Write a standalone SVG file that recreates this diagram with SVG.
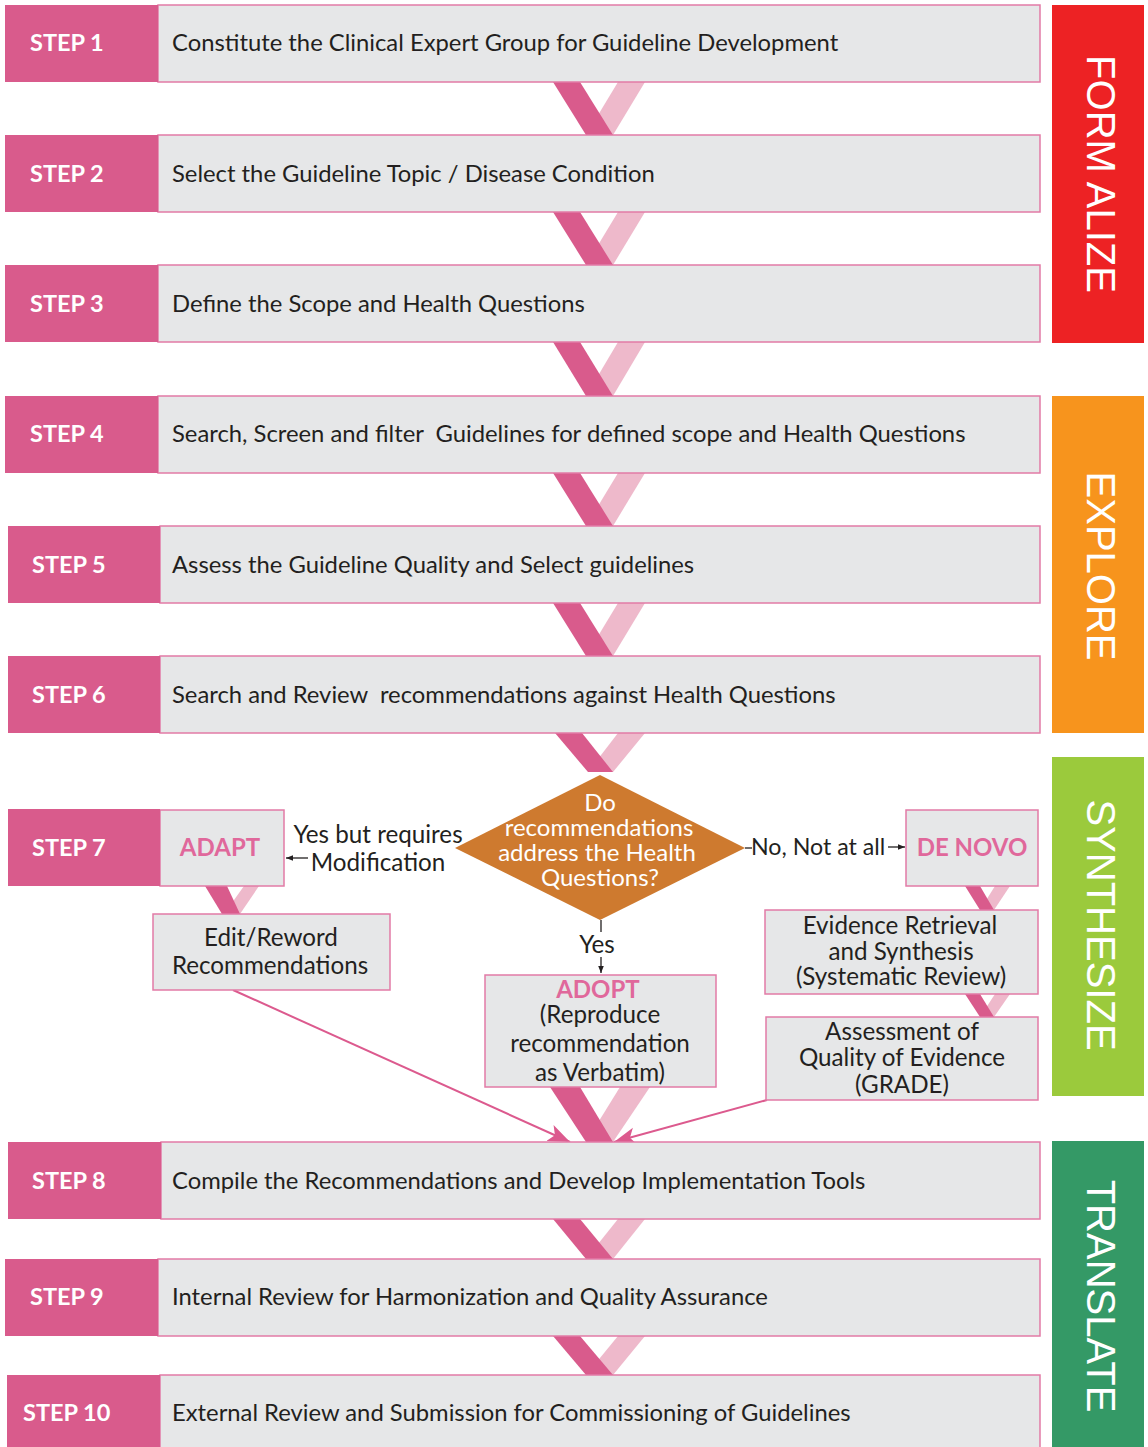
<svg xmlns="http://www.w3.org/2000/svg" width="1148" height="1447" viewBox="0 0 1148 1447">
<style>
.strip{fill:#D95B8C}
.box{fill:#E6E7E8;stroke:#E27BA6;stroke-width:1.5}
.lbl{font-family:Lato,"Liberation Sans",sans-serif;font-weight:700;font-size:23.5px;fill:#FFFFFF}
.txt{font-family:Lato,"Liberation Sans",sans-serif;font-size:23.8px;fill:#231F20}
.ctr{font-family:Lato,"Liberation Sans",sans-serif;font-size:24.2px;fill:#231F20;text-anchor:middle}
.pk{font-family:Lato,"Liberation Sans",sans-serif;font-weight:700;font-size:24px;fill:#E0689B;text-anchor:middle}
.dtxt{font-family:Lato,"Liberation Sans",sans-serif;font-size:24px;fill:#FFFFFF;text-anchor:middle}
.side{font-family:"Liberation Sans",Arial,sans-serif;font-size:40px;fill:#FFFFFF;text-anchor:middle}
.vd{fill:#D95B8C}
.vl{fill:#EEB9CB}
.ln{stroke:#231F20;stroke-width:1.3;fill:none}
.pl{stroke:#DC5A8E;stroke-width:2;fill:none}
</style>
<defs>
<marker id="ab" viewBox="0 0 10 10" refX="10" refY="5" markerWidth="7" markerHeight="7" markerUnits="userSpaceOnUse" orient="auto"><path d="M0,1 L10,5 L0,9 z" fill="#231F20"/></marker>
<marker id="ap" viewBox="0 0 10 10" refX="10" refY="5" markerWidth="22" markerHeight="22" markerUnits="userSpaceOnUse" orient="auto"><path d="M0,1 L10,5 L0,9 L2.5,5 z" fill="#DC5A8E"/></marker>
</defs>

<g id="phases">
<g id="formalize"><rect x="1052" y="5" width="92" height="338" fill="#ED2224"/><text class="side" transform="translate(1087,174) rotate(90)">FORM ALIZE</text></g>
<g id="explore"><rect x="1052" y="396" width="92" height="337" fill="#F7941D"/><text class="side" transform="translate(1087,566) rotate(90)">EXPLORE</text></g>
<g id="synthesize"><rect x="1052" y="757" width="92" height="339" fill="#9BCA3C"/><text class="side" transform="translate(1087,925) rotate(90)">SYNTHESIZE</text></g>
<g id="translate"><rect x="1052" y="1141" width="92" height="306" fill="#349966"/><text class="side" transform="translate(1087,1296) rotate(90)">TRANSLATE</text></g>
</g>

<g id="connectors">
<polygon class="vl" points="618,82 645,82 613,135 586,135"/><polygon class="vd" points="553,82 580,82 613,135 586,135"/>
<polygon class="vl" points="618,212 645,212 613,265 586,265"/><polygon class="vd" points="553,212 580,212 613,265 586,265"/>
<polygon class="vl" points="618,342 645,342 613,396 586,396"/><polygon class="vd" points="553,342 580,342 613,396 586,396"/>
<polygon class="vl" points="618,473 645,473 613,526 586,526"/><polygon class="vd" points="553,473 580,473 613,526 586,526"/>
<polygon class="vl" points="618,603 645,603 613,656 586,656"/><polygon class="vd" points="553,603 580,603 613,656 586,656"/>
<polygon class="vl" points="618,733 645,733 613,772 588,772"/><polygon class="vd" points="555,733 582,733 613,772 588,772"/>
<polygon class="vl" points="620,1087 650,1087 613,1142 586,1142"/><polygon class="vd" points="550,1087 580,1087 613,1142 586,1142"/>
<polygon class="vl" points="618,1219 645,1219 613,1259 586,1259"/><polygon class="vd" points="553,1219 580,1219 613,1259 586,1259"/>
<polygon class="vl" points="618,1336 645,1336 613,1375 586,1375"/><polygon class="vd" points="553,1336 580,1336 613,1375 586,1375"/>
<polygon class="vl" points="244,886 259,886 240,914 224,914"/><polygon class="vd" points="205,886 227,886 240,914 222,914"/>
<polygon class="vl" points="995,886 1010,886 994,910 980,910"/><polygon class="vd" points="965,886 980,886 994,910 980,910"/>
<polygon class="vl" points="995,994 1010,994 994,1017 980,1017"/><polygon class="vd" points="965,994 980,994 994,1017 980,1017"/>
<line class="pl" x1="233" y1="990" x2="570" y2="1142" marker-end="url(#ap)"/>
<line class="pl" x1="767" y1="1100" x2="614" y2="1142" marker-end="url(#ap)"/>
<line class="ln" x1="601" y1="920" x2="601" y2="932"/>
<line class="ln" x1="601" y1="957" x2="601" y2="973" marker-end="url(#ab)"/>
<line class="ln" x1="308" y1="858" x2="286" y2="858" marker-end="url(#ab)"/>
<line class="ln" x1="745" y1="848" x2="752" y2="848"/>
<line class="ln" x1="888" y1="847" x2="905" y2="847" marker-end="url(#ab)"/>
<text class="ctr" x="597" y="953">Yes</text>
<text class="ctr" x="378" y="843">Yes but requires</text>
<text class="ctr" x="378" y="871">Modification</text>
<text class="txt" x="751" y="855" style="font-size:23.2px">No, Not at all</text>
</g>

<g id="step1"><rect class="box" x="158" y="5" width="882" height="77"/><rect class="strip" x="5" y="5" width="153" height="77"/><text class="lbl" x="30" y="51">STEP 1</text><text class="txt" x="172" y="51">Constitute the Clinical Expert Group for Guideline Development</text></g>
<g id="step2"><rect class="box" x="158" y="135" width="882" height="77"/><rect class="strip" x="5" y="135" width="153" height="77"/><text class="lbl" x="30" y="182">STEP 2</text><text class="txt" x="172" y="182">Select the Guideline Topic / Disease Condition</text></g>
<g id="step3"><rect class="box" x="158" y="265" width="882" height="77"/><rect class="strip" x="5" y="265" width="153" height="77"/><text class="lbl" x="30" y="312">STEP 3</text><text class="txt" x="172" y="312">Define the Scope and Health Questions</text></g>
<g id="step4"><rect class="box" x="158" y="396" width="882" height="77"/><rect class="strip" x="5" y="396" width="153" height="77"/><text class="lbl" x="30" y="442">STEP 4</text><text class="txt" x="172" y="442" xml:space="preserve">Search, Screen and filter  Guidelines for defined scope and Health Questions</text></g>
<g id="step5"><rect class="box" x="160" y="526" width="880" height="77"/><rect class="strip" x="8" y="526" width="152" height="77"/><text class="lbl" x="32" y="573">STEP 5</text><text class="txt" x="172" y="573">Assess the Guideline Quality and Select guidelines</text></g>
<g id="step6"><rect class="box" x="160" y="656" width="880" height="77"/><rect class="strip" x="8" y="656" width="152" height="77"/><text class="lbl" x="32" y="703">STEP 6</text><text class="txt" x="172" y="703" xml:space="preserve">Search and Review  recommendations against Health Questions</text></g>
<g id="step7"><rect class="box" x="160" y="810" width="124" height="76"/><rect class="strip" x="8" y="809" width="152" height="77"/><text class="lbl" x="32" y="856">STEP 7</text><text class="pk" x="220" y="856">ADAPT</text></g>
<g id="decision"><polygon points="600,775 745,848 600,920 455,848" fill="#CE7A2F"/><text class="dtxt" x="600" y="811">Do</text><text class="dtxt" x="599" y="836">recommendations</text><text class="dtxt" x="597" y="861">address the Health</text><text class="dtxt" x="600" y="886">Questions?</text></g>
<g id="denovo"><rect class="box" x="906" y="810" width="132" height="76"/><text class="pk" x="972" y="856">DE NOVO</text></g>
<g id="edit"><rect class="box" x="153" y="914" width="237" height="76"/><text class="ctr" x="271" y="946">Edit/Reword</text><text class="ctr" x="270" y="974">Recommendations</text></g>
<g id="adopt"><rect class="box" x="485" y="975" width="231" height="112"/><text class="pk" x="598" y="998">ADOPT</text><text class="ctr" x="600" y="1023">(Reproduce</text><text class="ctr" x="600" y="1052">recommendation</text><text class="ctr" x="600" y="1081">as Verbatim)</text></g>
<g id="evidence"><rect class="box" x="765" y="910" width="273" height="84"/><text class="ctr" x="900" y="934">Evidence Retrieval</text><text class="ctr" x="901" y="960">and Synthesis</text><text class="ctr" x="901" y="985">(Systematic Review)</text></g>
<g id="assessment"><rect class="box" x="766" y="1017" width="272" height="83"/><text class="ctr" x="902" y="1040">Assessment of</text><text class="ctr" x="902" y="1066">Quality of Evidence</text><text class="ctr" x="902" y="1093">(GRADE)</text></g>
<g id="step8"><rect class="box" x="161" y="1142" width="879" height="77"/><rect class="strip" x="8" y="1142" width="153" height="77"/><text class="lbl" x="32" y="1189">STEP 8</text><text class="txt" x="172" y="1189">Compile the Recommendations and Develop Implementation Tools</text></g>
<g id="step9"><rect class="box" x="158" y="1259" width="882" height="77"/><rect class="strip" x="5" y="1259" width="153" height="77"/><text class="lbl" x="30" y="1305">STEP 9</text><text class="txt" x="172" y="1305">Internal Review for Harmonization and Quality Assurance</text></g>
<g id="step10"><rect class="box" x="160" y="1375" width="880" height="80"/><rect class="strip" x="7" y="1375" width="153" height="72"/><text class="lbl" x="23" y="1421">STEP 10</text><text class="txt" x="172" y="1421">External Review and Submission for Commissioning of Guidelines</text></g>
</svg>
